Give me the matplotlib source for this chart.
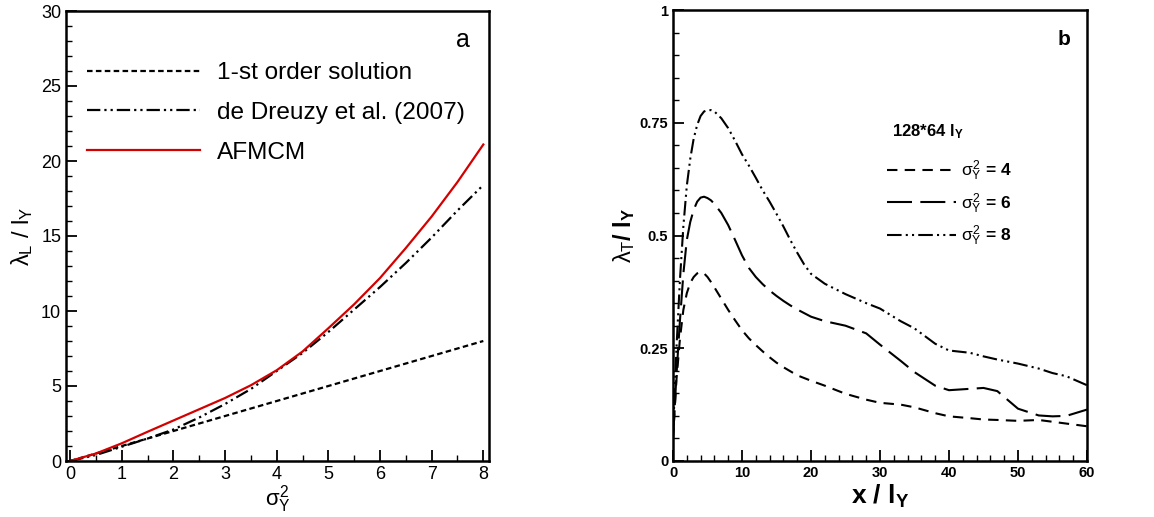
import matplotlib
matplotlib.use("Agg")
import matplotlib.pyplot as plt

plt.rcParams['font.family'] = ['Liberation Sans', 'DejaVu Sans']
plt.rcParams['mathtext.fontset'] = 'custom'
plt.rcParams['mathtext.rm'] = 'Liberation Sans'
plt.rcParams['mathtext.it'] = 'Liberation Sans'
plt.rcParams['mathtext.bf'] = 'Liberation Sans:bold'

# panel a: lambda_L / l_Y vs sigma^2_Y
sig2 = [0, 0.5, 1, 1.5, 2, 2.5, 3, 3.5, 4, 4.5, 5, 5.5, 6, 6.5, 7, 7.5, 8]
first_order = [0, 0.5, 1, 1.5, 2, 2.5, 3, 3.5, 4, 4.5, 5, 5.5, 6, 6.5, 7, 7.5, 8]
dreuzy = [0, 0.4, 0.95, 1.5, 2.1, 2.9, 3.8, 4.8, 6.0, 7.2, 8.6, 10.1, 11.6, 13.2, 14.9, 16.7, 18.4]
afmcm = [0, 0.5, 1.18, 1.95, 2.7, 3.45, 4.2, 5.05, 6.05, 7.3, 8.85, 10.45, 12.2, 14.2, 16.3, 18.6, 21.1]

# panel b: lambda_T / l_Y vs x / l_Y
xb = [0, 0.5, 1, 1.5, 2, 2.5, 3, 3.5, 4, 4.5, 5, 5.5, 6, 7, 8, 9, 10, 11, 12, 13, 14, 15,
      16, 17, 18, 19, 20, 22, 25, 28, 30, 33, 35, 38, 40, 43, 45, 47, 50, 53, 55, 57, 60]
s4 = [0.05, 0.18, 0.27, 0.335, 0.372, 0.395, 0.408, 0.416, 0.419, 0.416, 0.408, 0.397,
      0.385, 0.36, 0.335, 0.312, 0.29, 0.272, 0.257, 0.243, 0.23, 0.218, 0.208, 0.199,
      0.19, 0.184, 0.178, 0.167, 0.149, 0.136, 0.129, 0.125, 0.119, 0.106, 0.099, 0.095,
      0.092, 0.091, 0.089, 0.091, 0.087, 0.083, 0.077]
s6 = [0.05, 0.19, 0.31, 0.415, 0.49, 0.53, 0.557, 0.575, 0.584, 0.586, 0.583, 0.578,
      0.57, 0.55, 0.523, 0.49, 0.456, 0.428, 0.408, 0.392, 0.378, 0.366, 0.355, 0.345,
      0.336, 0.328, 0.32, 0.31, 0.3, 0.283, 0.258, 0.222, 0.197, 0.167, 0.157, 0.16,
      0.162, 0.155, 0.116, 0.101, 0.099, 0.1, 0.114]
s8 = [0.06, 0.25, 0.4, 0.52, 0.61, 0.67, 0.715, 0.745, 0.765, 0.775, 0.778, 0.778,
      0.775, 0.76, 0.738, 0.71, 0.68, 0.655, 0.628, 0.6, 0.575, 0.548, 0.52, 0.49,
      0.462, 0.436, 0.415, 0.393, 0.37, 0.35, 0.338, 0.31, 0.294, 0.26, 0.245, 0.24,
      0.232, 0.225, 0.216, 0.205, 0.195, 0.188, 0.168]

fig = plt.figure(figsize=(11.54, 5.17), dpi=100)

# ---- panel a ----
ax1 = fig.add_axes([66 / 1154, 56 / 517, 423 / 1154, 450 / 517])
ax1.plot(sig2, first_order, color='black', lw=1.6, dashes=(2.5, 1.5), label='1-st order solution')
ax1.plot(sig2, dreuzy, color='black', lw=1.6, dashes=(6, 1.8, 1, 1.8, 1, 1.8), label='de Dreuzy et al. (2007)')
ax1.plot(sig2, afmcm, color='#d40000', lw=1.6, label='AFMCM')
ax1.set_xlim(-0.08, 8.11)
ax1.set_ylim(0, 30)
ax1.set_xticks(range(0, 9))
ax1.set_xticks([i + 0.5 for i in range(8)], minor=True)
ax1.set_yticks(range(0, 31, 5))
ax1.set_yticks(range(0, 31), minor=True)
ax1.tick_params(direction='in', which='major', length=8, width=1.3, labelsize=13)
ax1.tick_params(direction='in', which='minor', length=4, width=1.0)
for s in ax1.spines.values():
    s.set_linewidth(1.8)
ax1.set_xlabel(r'$\sigma^2_Y$', fontsize=16, labelpad=0)
ax1.set_ylabel(r'$\lambda_L$ / l$_Y$', fontsize=17, labelpad=4)
ax1.text(0.955, 0.935, 'a', transform=ax1.transAxes, fontsize=18, ha='right', va='center')
ax1.legend(loc='upper left', bbox_to_anchor=(0.027, 0.908), frameon=False, fontsize=17.6,
           handlelength=4.6, handletextpad=0.72, labelspacing=0.72, borderaxespad=0)

# ---- panel b ----
ax2 = fig.add_axes([673 / 1154, 56 / 517, 414 / 1154, 451 / 517])
ax2.plot(xb, s4, color='black', lw=1.5, dashes=(5, 3.5), label=r'$\sigma^2_Y$ = 4')
ax2.plot(xb, s6, color='black', lw=1.5, dashes=(12, 4), label=r'$\sigma^2_Y$ = 6')
ax2.plot(xb, s8, color='black', lw=1.5, dashes=(7, 2, 1, 2, 1, 2), label=r'$\sigma^2_Y$ = 8')
ax2.set_xlim(0, 60)
ax2.set_ylim(0, 1)
ax2.set_xticks(range(0, 61, 10))
ax2.set_xticks(range(0, 61, 2), minor=True)
ax2.set_yticks([0, 0.25, 0.5, 0.75, 1])
ax2.set_yticklabels(['0', '0.25', '0.5', '0.75', '1'])
ax2.set_yticks([i * 0.05 for i in range(21)], minor=True)
ax2.tick_params(direction='in', which='major', length=8, width=1.3, labelsize=10.5)
ax2.tick_params(direction='in', which='minor', length=4, width=1.0)
for lab in ax2.get_xticklabels() + ax2.get_yticklabels():
    lab.set_fontweight('bold')
for s in ax2.spines.values():
    s.set_linewidth(1.8)
ax2.set_xlabel(r'x / $\mathbf{l_Y}$', fontsize=19, fontweight='bold', labelpad=2)
ax2.set_ylabel(r'$\lambda_T$/ $\mathbf{l_Y}$', fontsize=17, fontweight='bold')
ax2.yaxis.set_label_coords(-0.088, 0.5)
ax2.text(0.96, 0.935, 'b', transform=ax2.transAxes, fontsize=15, fontweight='bold', ha='right', va='center')
ax2.text(0.53, 0.72, r'128*64 $\mathbf{l_Y}$', transform=ax2.transAxes, fontsize=12, fontweight='bold')
ax2.legend(loc='upper left', bbox_to_anchor=(0.5, 0.685), frameon=False,
           prop={'size': 12.5, 'weight': 'bold'},
           handlelength=4.0, handletextpad=0.25, labelspacing=0.45, borderaxespad=0)

fig.savefig('out.png', dpi=100)
